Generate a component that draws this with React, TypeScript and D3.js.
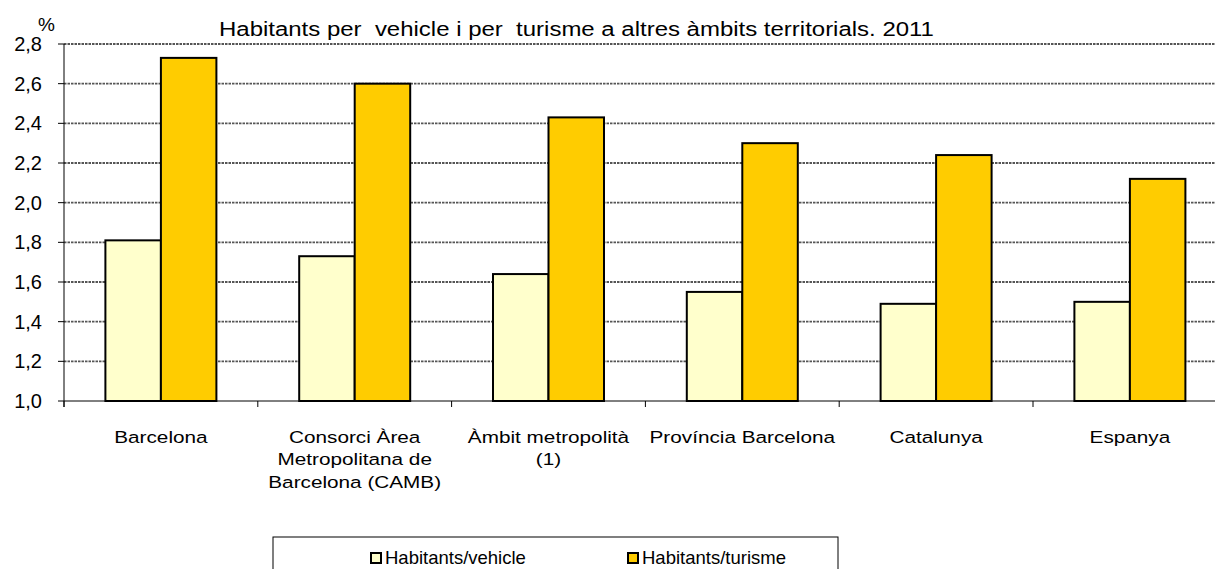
import React from "react";
import * as d3 from "d3";

const categories: string[][] = [
  ["Barcelona"],
  ["Consorci Àrea", "Metropolitana de", "Barcelona (CAMB)"],
  ["Àmbit metropolità", "(1)"],
  ["Província Barcelona"],
  ["Catalunya"],
  ["Espanya"],
];
const vehicleValues = [1.81, 1.73, 1.64, 1.55, 1.49, 1.5];
const turismeValues = [2.73, 2.6, 2.43, 2.3, 2.24, 2.12];
const yTicks = [1.0, 1.2, 1.4, 1.6, 1.8, 2.0, 2.2, 2.4, 2.6, 2.8];
const seriesNames = ["Habitants/vehicle", "Habitants/turisme"];
const seriesColors = ["#FFFFCC", "#FFCC00"];
const title = "Habitants per  vehicle i per  turisme a altres àmbits territorials. 2011";

const W = 1215;
const H = 569;
const left = 64;
const top = 44;
const bottom = 401;
const step = 193.8;
const font = "Arial, 'Liberation Sans', sans-serif";
const stretch = 1.22;

export default function App() {
  const x = d3
    .scaleBand<number>()
    .domain(d3.range(categories.length))
    .range([left, left + step * categories.length])
    .paddingInner(0)
    .paddingOuter(0);
  const y = d3.scaleLinear().domain([1, 2.8]).range([bottom, top]);
  const barW = 55.5;
  const right = left + step * categories.length;
  const fmt = (v: number) => d3.format(".1f")(v).replace(".", ",");

  return (
    <svg
      width={W}
      height={H}
      style={{ position: "absolute", left: 0, top: 0, background: "#fff" }}
      fontFamily={font}
    >
      {/* gridlines */}
      {yTicks
        .filter((t) => t > 1)
        .map((t) => (
          <line
            key={"g" + t}
            x1={left}
            x2={right}
            y1={y(t)}
            y2={y(t)}
            stroke="#555"
            strokeWidth={1.8}
            strokeDasharray="2.5 1"
          />
        ))}
      {/* bars */}
      {categories.map((_, i) => {
        const c = (x(i) as number) + x.bandwidth() / 2;
        return (
          <g key={"b" + i}>
            <rect
              x={c - barW}
              y={y(vehicleValues[i])}
              width={barW}
              height={bottom - y(vehicleValues[i])}
              fill={seriesColors[0]}
              stroke="#000"
              strokeWidth={2}
            />
            <rect
              x={c}
              y={y(turismeValues[i])}
              width={barW}
              height={bottom - y(turismeValues[i])}
              fill={seriesColors[1]}
              stroke="#000"
              strokeWidth={2}
            />
          </g>
        );
      })}
      {/* y axis */}
      <line x1={left} x2={left} y1={top} y2={bottom + 6} stroke="#000" strokeWidth={1} />
      {yTicks.map((t) => (
        <g key={"t" + t}>
          <line x1={left - 6} x2={left} y1={y(t)} y2={y(t)} stroke="#000" strokeWidth={1} />
          <text x={42} y={y(t) + 7} textAnchor="end" fontSize={20} fill="#000">
            {fmt(t)}
          </text>
        </g>
      ))}
      <text x={38} y={31} fontSize={19} fill="#000">
        %
      </text>
      {/* x axis */}
      <line x1={left} x2={right} y1={bottom} y2={bottom} stroke="#000" strokeWidth={1} />
      {categories.map((_, i) => (
        <line
          key={"xt" + i}
          x1={x(i) as number}
          x2={x(i) as number}
          y1={bottom}
          y2={bottom + 6}
          stroke="#000"
          strokeWidth={1}
        />
      ))}
      {categories.map((lines, i) => {
        const c = (x(i) as number) + x.bandwidth() / 2;
        return (
          <g key={"cl" + i} transform={`translate(${c},0) scale(${stretch},1)`}>
            <text fontSize={17} fill="#000" textAnchor="middle">
              {lines.map((ln, j) => (
                <tspan key={j} x={0} y={443 + j * 22.5}>
                  {ln}
                </tspan>
              ))}
            </text>
          </g>
        );
      })}
      {/* title */}
      <g transform={`translate(219,0) scale(${stretch + 0.01},1)`}>
        <text x={0} y={36.5} fontSize={19.5} fill="#000" style={{ whiteSpace: "pre" }}>
          {title}
        </text>
      </g>
      {/* legend */}
      <rect x={273} y={537} width={565} height={50} fill="#fff" stroke="#000" strokeWidth={1} />
      {seriesNames.map((name, i) => {
        const lx = [370, 627][i];
        return (
          <g key={"l" + i}>
            <rect x={lx + 1} y={553} width={10} height={10} fill={seriesColors[i]} stroke="#000" strokeWidth={2} />
            <text x={lx + 15} y={564} fontSize={18.5} fill="#000">
              {name}
            </text>
          </g>
        );
      })}
    </svg>
  );
}
